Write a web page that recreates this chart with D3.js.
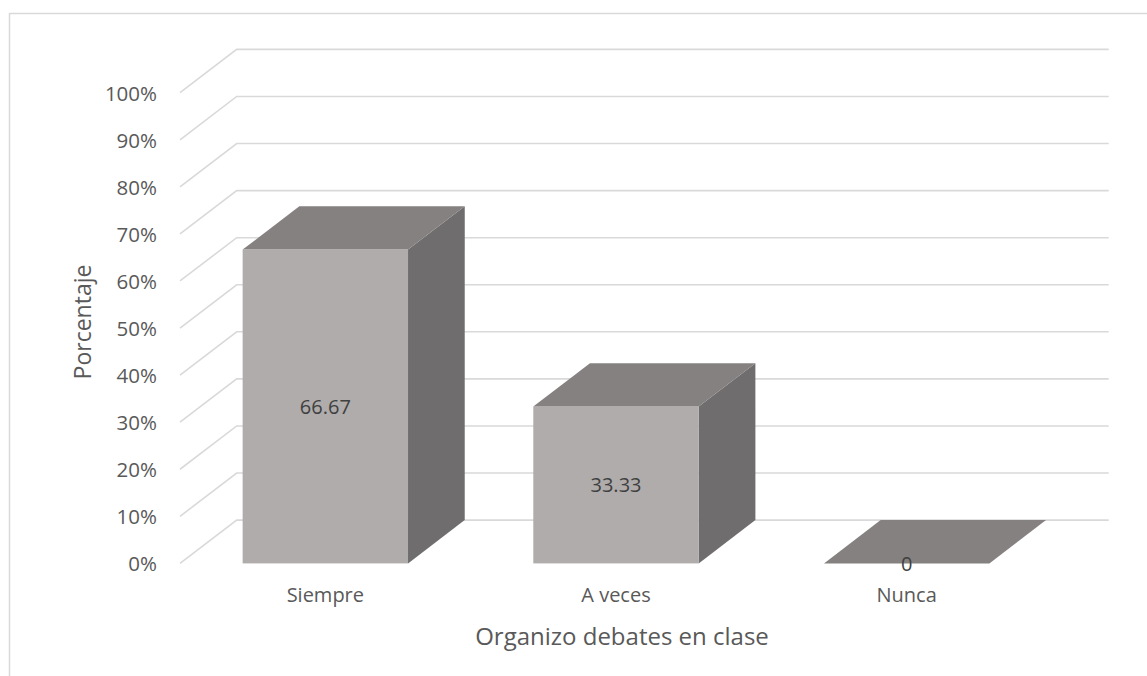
<!DOCTYPE html>
<html><head><meta charset="utf-8">
<script src="https://cdn.jsdelivr.net/npm/d3@7"></script>
<style>body{margin:0;background:#fff}svg{display:block}text{font-family:"Open Sans",sans-serif}</style>
</head><body>
<svg id="c" width="1147" height="676"></svg>
<script>
const categories = ["Siempre", "A veces", "Nunca"];
const values = [66.67, 33.33, 0];
const valueLabels = ["66.67", "33.33", "0"];
const tickValues = [0, 10, 20, 30, 40, 50, 60, 70, 80, 90, 100];
const tickLabels = ["0%", "10%", "20%", "30%", "40%", "50%", "60%", "70%", "80%", "90%", "100%"];
const xTitle = "Organizo debates en clase";
const yTitle = "Porcentaje";

(function () {
const svg = d3.select("#c");
const depthX = 56.7, depthY = 43.3;
const grid = "#d9d9d9";

svg.append("rect").attr("x", 9.5).attr("y", 13.5).attr("width", 1300).attr("height", 800)
  .attr("fill", "none").attr("stroke", grid).attr("stroke-width", 1.5);

const y = d3.scaleLinear().domain([0, 100]).range([563.4, 92.7]);
const x = d3.scaleBand().domain(categories).range([180, 1052]);
const barW = x.bandwidth() * 0.569;

const gl = svg.append("g").attr("stroke", grid).attr("stroke-width", 1.6).attr("fill", "none");
tickValues.forEach(t => {
  const yf = y(t), yb = y(t) - depthY;
  gl.append("path").attr("d", `M${x.range()[0]},${yf}L${x.range()[0] + depthX},${yb}L${x.range()[1] + depthX},${yb}`);
});

svg.append("g").selectAll("text").data(tickValues).join("text")
  .attr("x", 157).attr("y", d => y(d)).attr("text-anchor", "end").attr("dominant-baseline", "central")
  .attr("fill", "#595959").style("font-size", "20.5px")
  .text((d, i) => tickLabels[i]);

const cFront = "#afacab", cTop = "#858180", cSide = "#6f6d6d";
const bars = svg.append("g");
categories.forEach((c, i) => {
  const x0 = x(c) + (x.bandwidth() - barW) / 2, x1 = x0 + barW;
  const y0 = y(0), y1 = y(values[i]);
  const g = bars.append("g");
  if (values[i] > 0) {
    g.append("path").attr("fill", cSide)
      .attr("d", `M${x1},${y0}L${x1 + depthX},${y0 - depthY}L${x1 + depthX},${y1 - depthY}L${x1},${y1}Z`);
    g.append("rect").attr("x", x0).attr("y", y1).attr("width", barW).attr("height", y0 - y1).attr("fill", cFront);
  }
  g.append("path").attr("fill", cTop)
    .attr("d", `M${x0},${y1}L${x0 + depthX},${y1 - depthY}L${x1 + depthX},${y1 - depthY}L${x1},${y1}Z`);
  svg.append("text").attr("x", (x0 + x1) / 2).attr("y", values[i] > 0 ? (y0 + y1) / 2 : y0)
    .attr("text-anchor", "middle").attr("dominant-baseline", "central")
    .attr("fill", "#404040").style("font-size", "20px").text(valueLabels[i]);
});

svg.append("g").selectAll("text").data(categories).join("text")
  .attr("x", d => x(d) + x.bandwidth() / 2).attr("y", 594).attr("text-anchor", "middle")
  .attr("dominant-baseline", "central").attr("fill", "#595959").style("font-size", "20px").text(d => d);

svg.append("text").attr("x", 622).attr("y", 635).attr("text-anchor", "middle").attr("dominant-baseline", "central")
  .attr("fill", "#595959").style("font-size", "24px").text(xTitle);
svg.append("text").attr("transform", "translate(82,322) rotate(-90)").attr("text-anchor", "middle")
  .attr("dominant-baseline", "central").attr("fill", "#595959").style("font-size", "23px").text(yTitle);
})();
</script>
</body></html>
